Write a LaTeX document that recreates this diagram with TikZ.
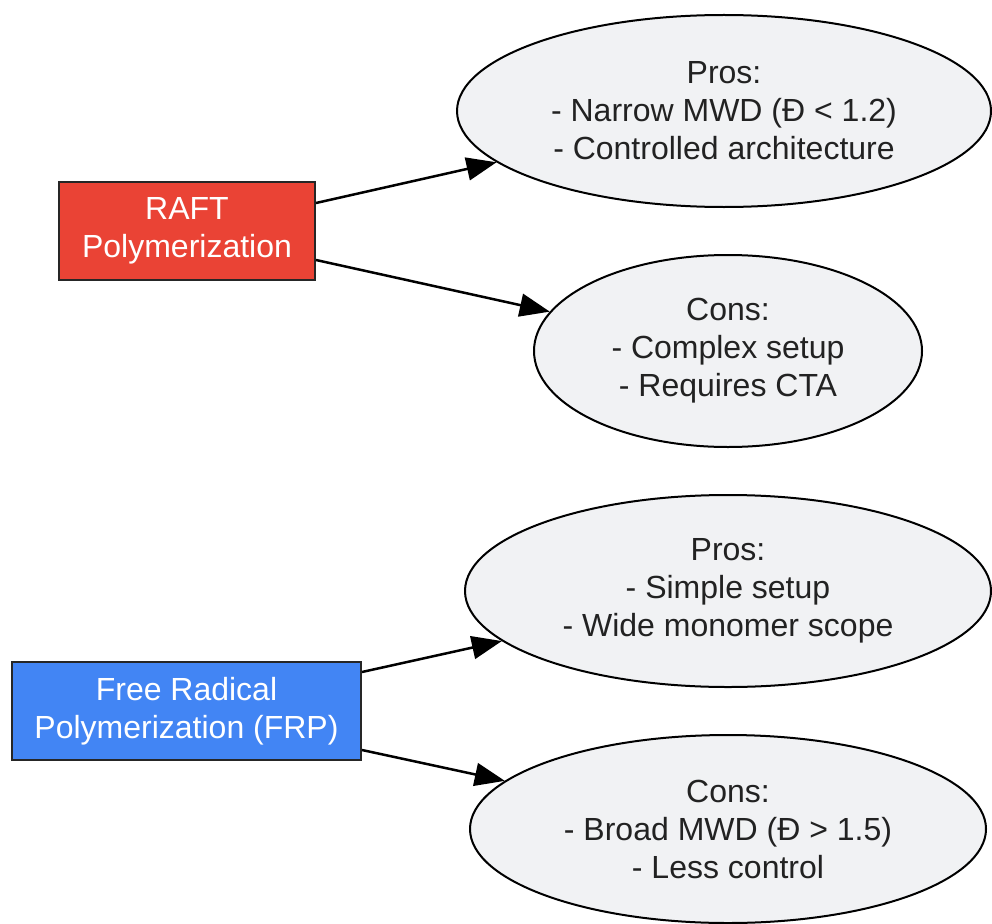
\documentclass[tikz,border=0pt]{standalone}
\usepackage{fontspec}
\setmainfont{Liberation Sans}
\usetikzlibrary{shapes.geometric,arrows.meta}
\definecolor{raftred}{HTML}{EA4335}
\definecolor{frpblue}{HTML}{4285F4}
\definecolor{ellfill}{HTML}{F1F2F4}
\definecolor{txt}{HTML}{222222}
\tikzset{
  method/.style={draw=black!85, line width=2pt, text=white, inner sep=0pt, align=center,
    font=\fontsize{32}{38}\selectfont},
  proscons/.style={ellipse, draw=black, line width=2pt, fill=ellfill, text=txt, inner sep=0pt,
    align=center, font=\fontsize{32}{38}\selectfont},
  link/.style={line width=2.5pt, -{Triangle[length=30pt,width=23pt]}}
}
\begin{document}
\begin{tikzpicture}[x=1pt,y=-1pt]
\useasboundingbox (0,0) rectangle (992,923);
\node[method, fill=raftred, minimum width=256, minimum height=98] (raft) at (187,231) {RAFT\\Polymerization};
\node[method, fill=frpblue, minimum width=349, minimum height=98] (frp) at (186.5,711) {Free Radical\\Polymerization (FRP)};
\node[proscons, minimum width=534, minimum height=192] (rpros) at (724,111) {Pros:\\- Narrow MWD (Đ < 1.2)\\- Controlled architecture};
\node[proscons, minimum width=388, minimum height=192] (rcons) at (728,351) {Cons:\\- Complex setup\\- Requires CTA};
\node[proscons, minimum width=526, minimum height=192] (fpros) at (728,591) {Pros:\\- Simple setup\\- Wide monomer scope};
\node[proscons, minimum width=516, minimum height=188] (fcons) at (728,829) {Cons:\\- Broad MWD (Đ > 1.5)\\- Less control};
\draw[link] ([yshift=28pt]raft.east) -- (rpros);
\draw[link] ([yshift=-29pt]raft.east) -- (rcons);
\draw[link] ([yshift=39pt]frp.east) -- (fpros);
\draw[link] ([yshift=-39pt]frp.east) -- (fcons);
\end{tikzpicture}
\end{document}
